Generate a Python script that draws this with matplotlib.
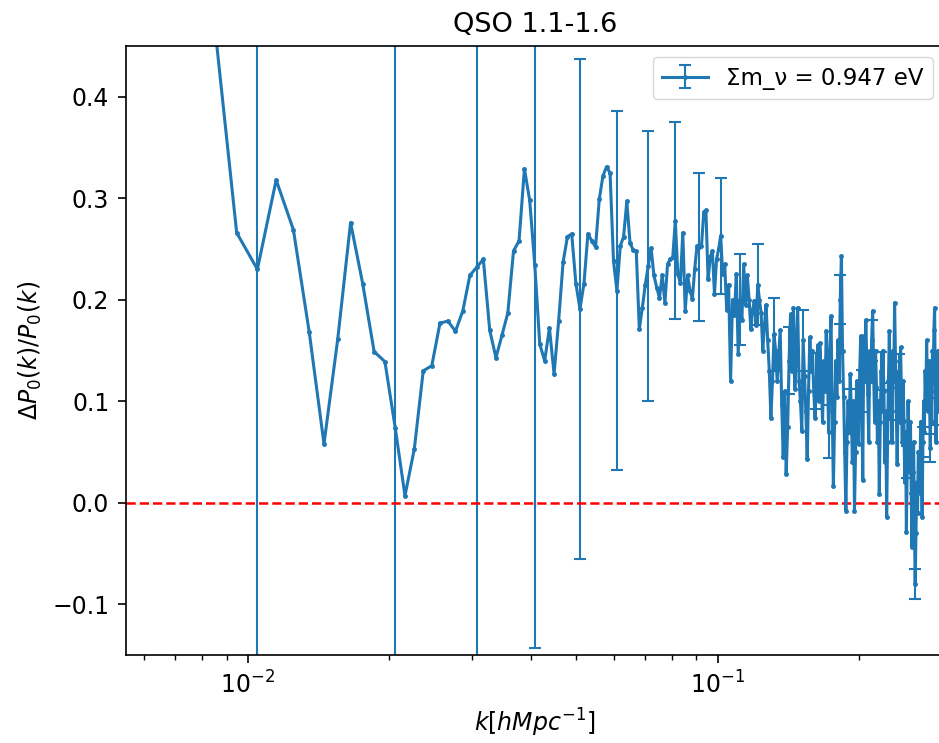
import numpy as np
import matplotlib
matplotlib.use('Agg')
import matplotlib.pyplot as plt

# k bins (h/Mpc)
k = [0.00845, 0.00946,
     0.01047, 0.01148, 0.01249, 0.01350, 0.01451, 0.01552, 0.01653, 0.01754, 0.01855, 0.01956,
     0.02057, 0.02158, 0.02259, 0.02360, 0.02461, 0.02562, 0.02663, 0.02764, 0.02865, 0.02966,
     0.03067, 0.03168, 0.03269, 0.03370, 0.03471, 0.03572, 0.03673, 0.03774, 0.03875, 0.03976,
     0.04077, 0.04178, 0.04279, 0.04380, 0.04481, 0.04582, 0.04683, 0.04784, 0.04885, 0.04986,
     0.05087, 0.05188, 0.05289, 0.05390, 0.05491, 0.05592, 0.05693, 0.05794, 0.05895, 0.05996,
     0.06097, 0.06198, 0.06299, 0.06400, 0.06501, 0.06602, 0.06703, 0.06804, 0.06905, 0.07006,
     0.07107, 0.07208, 0.07309, 0.07410, 0.07511, 0.07612, 0.07713, 0.07814, 0.07915, 0.08016,
     0.08117, 0.08218, 0.08319, 0.08420, 0.08521, 0.08622, 0.08723, 0.08824, 0.08925, 0.09026,
     0.09127, 0.09228, 0.09329, 0.09430, 0.09531, 0.09632, 0.09733, 0.09834, 0.09935, 0.10036,
     0.10137, 0.10238, 0.10339, 0.10440, 0.10541, 0.10642, 0.10743, 0.10844, 0.10945, 0.11046,
     0.11147, 0.11248, 0.11349, 0.11450, 0.11551, 0.11652, 0.11753, 0.11854, 0.11955, 0.12056,
     0.12157, 0.12258, 0.12359, 0.12460, 0.12561, 0.12662, 0.12763, 0.12864, 0.12965, 0.13066,
     0.13167, 0.13268, 0.13369, 0.13470, 0.13571, 0.13672, 0.13773, 0.13874, 0.13975, 0.14076,
     0.14177, 0.14278, 0.14379, 0.14480, 0.14581, 0.14682, 0.14783, 0.14884, 0.14985, 0.15086,
     0.15187, 0.15288, 0.15389, 0.15490, 0.15591, 0.15692, 0.15793, 0.15894, 0.15995, 0.16096,
     0.16197, 0.16298, 0.16399, 0.16500, 0.16601, 0.16702, 0.16803, 0.16904, 0.17005, 0.17106,
     0.17207, 0.17308, 0.17409, 0.17510, 0.17611, 0.17712, 0.17813, 0.17914, 0.18015, 0.18116,
     0.18217, 0.18318, 0.18419, 0.18520, 0.18621, 0.18722, 0.18823, 0.18924, 0.19025, 0.19126,
     0.19227, 0.19328, 0.19429, 0.19530, 0.19631, 0.19732, 0.19833, 0.19934, 0.20035, 0.20136,
     0.20237, 0.20338, 0.20439, 0.20540, 0.20641, 0.20742, 0.20843, 0.20944, 0.21045, 0.21146,
     0.21247, 0.21348, 0.21449, 0.21550, 0.21651, 0.21752, 0.21853, 0.21954, 0.22055, 0.22156,
     0.22257, 0.22358, 0.22459, 0.22560, 0.22661, 0.22762, 0.22863, 0.22964, 0.23065, 0.23166,
     0.23267, 0.23368, 0.23469, 0.23570, 0.23671, 0.23772, 0.23873, 0.23974, 0.24075, 0.24176,
     0.24277, 0.24378, 0.24479, 0.24580, 0.24681, 0.24782, 0.24883, 0.24984, 0.25085, 0.25186,
     0.25287, 0.25388, 0.25489, 0.25590, 0.25691, 0.25792, 0.25893, 0.25994, 0.26095, 0.26196,
     0.26297, 0.26398, 0.26499, 0.26600, 0.26701, 0.26802, 0.26903, 0.27004, 0.27105, 0.27206,
     0.27307, 0.27408, 0.27509, 0.27610, 0.27711, 0.27812, 0.27913, 0.28014, 0.28115, 0.28216,
     0.28317, 0.28418, 0.28519, 0.28620, 0.28721, 0.28822, 0.28923, 0.29024, 0.29125, 0.29226,
     0.29327, 0.29428, 0.29529]

# Delta P0 / P0
ratio = [0.480, 0.266,
         0.230, 0.318, 0.269, 0.168, 0.058, 0.161, 0.276, 0.216, 0.149, 0.139,
         0.074, 0.007, 0.053, 0.130, 0.135, 0.177, 0.179, 0.169, 0.189, 0.224,
         0.232, 0.240, 0.170, 0.143, 0.165, 0.187, 0.248, 0.258, 0.329, 0.298,
         0.234, 0.156, 0.140, 0.172, 0.127, 0.179, 0.237, 0.262, 0.265, 0.216,
         0.191, 0.216, 0.265, 0.258, 0.252, 0.299, 0.322, 0.331, 0.325, 0.238,
         0.209, 0.253, 0.262, 0.297, 0.256, 0.249, 0.248, 0.171, 0.192, 0.215,
         0.233, 0.251, 0.224, 0.212, 0.202, 0.224, 0.197, 0.235, 0.240, 0.242,
         0.278, 0.225, 0.217, 0.266, 0.189, 0.224, 0.209, 0.201, 0.230, 0.253,
         0.252, 0.253, 0.286, 0.288, 0.220, 0.242, 0.248, 0.206, 0.240, 0.250,
         0.263, 0.225, 0.235, 0.190, 0.215, 0.120, 0.200, 0.185, 0.225, 0.147,
         0.200, 0.180, 0.235, 0.195, 0.224, 0.200, 0.171, 0.190, 0.199, 0.175,
         0.215, 0.200, 0.187, 0.150, 0.174, 0.195, 0.160, 0.130, 0.084, 0.120,
         0.166, 0.150, 0.120, 0.145, 0.170, 0.097, 0.045, 0.110, 0.028, 0.075,
         0.140, 0.186, 0.130, 0.192, 0.112, 0.150, 0.192, 0.120, 0.100, 0.071,
         0.160, 0.125, 0.090, 0.043, 0.110, 0.163, 0.130, 0.150, 0.110, 0.084,
         0.120, 0.155, 0.100, 0.157, 0.120, 0.080, 0.140, 0.110, 0.169, 0.130,
         0.070, 0.150, 0.184, 0.090, 0.017, 0.080, 0.140, 0.104, 0.160, 0.120,
         0.200, 0.243, 0.150, 0.104, 0.050, -0.008, 0.060, 0.100, 0.070, 0.127,
         0.090, 0.040, 0.100, -0.008, 0.050, 0.120, 0.090, 0.058, 0.130, 0.164,
         0.110, 0.022, 0.164, 0.120, 0.180, 0.140, 0.107, 0.060, 0.150, 0.120,
         0.160, 0.189, 0.130, 0.080, 0.150, 0.114, 0.060, 0.100, 0.009, 0.080,
         0.130, 0.090, 0.150, 0.110, 0.040, 0.090, -0.014, 0.060, 0.120, 0.169,
         0.100, 0.140, 0.060, 0.150, 0.120, 0.197, 0.140, 0.090, 0.038, 0.100,
         0.130, 0.080, 0.153, 0.110, 0.060, 0.120, 0.081, 0.020, 0.070, -0.029,
         0.040, 0.100, 0.071, 0.030, 0.080, 0.010, -0.044, 0.030, 0.060, -0.020,
         -0.080, -0.030, 0.020, -0.010, 0.050, 0.045, 0.010, 0.080, 0.030, -0.014,
         0.060, 0.100, 0.070, 0.130, 0.100, 0.160, 0.120, 0.090, 0.140, 0.100,
         0.054, 0.110, 0.080, 0.150, 0.120, 0.170, 0.192, 0.110, 0.060, 0.130,
         0.090, 0.150, 0.120]

# error bars shown on every 10th bin (starting at k = 0.01047)
err_values = [1.0, 1.0, 1.0, 0.377, 0.246, 0.177, 0.133, 0.097, 0.073, 0.057,
              0.045, 0.040, 0.036, 0.033, 0.030, 0.028, 0.026, 0.024, 0.022, 0.021,
              0.020, 0.019, 0.018, 0.017, 0.016, 0.015, 0.015, 0.014, 0.013]

title = "QSO 1.1-1.6"
legend_label = "Σm_ν = 0.947 eV"
yticks = [-0.1, 0.0, 0.1, 0.2, 0.3, 0.4]

plt.rcParams['font.size'] = 17
plt.rcParams['axes.linewidth'] = 1.2

yerr = np.zeros(len(k))
yerr[2::10] = err_values

fig = plt.figure(figsize=(9.39, 7.43), dpi=100)
ax = fig.add_axes([0.1342, 0.1184, 0.8711, 0.8197])

ax.errorbar(k, ratio, yerr=yerr, errorevery=(2, 10), fmt='.-', color='#1f77b4',
            lw=2.2, ms=5, elinewidth=1.5, capsize=4, capthick=1.5, label=legend_label)
ax.axhline(0, color='red', ls='--', lw=1.8)

ax.set_xscale('log')
ax.set_xlim(0.0055, 0.3028)
ax.set_ylim(-0.15, 0.45)
ax.set_yticks(yticks)
ax.set_title(title, fontsize=19.5, pad=10)
ax.set_xlabel(r'$k[hMpc^{-1}]$', fontsize=17, labelpad=6)
ax.set_ylabel(r'$\Delta P_0(k)/P_0(k)$', fontsize=17, labelpad=6)
ax.tick_params(which='major', length=6, width=1.2, pad=6, labelsize=17)
ax.tick_params(which='minor', length=3.5, width=1.0)
ax.legend(loc='upper right', fontsize=16.5, borderaxespad=0.5)

fig.savefig('out.png', dpi=100)
